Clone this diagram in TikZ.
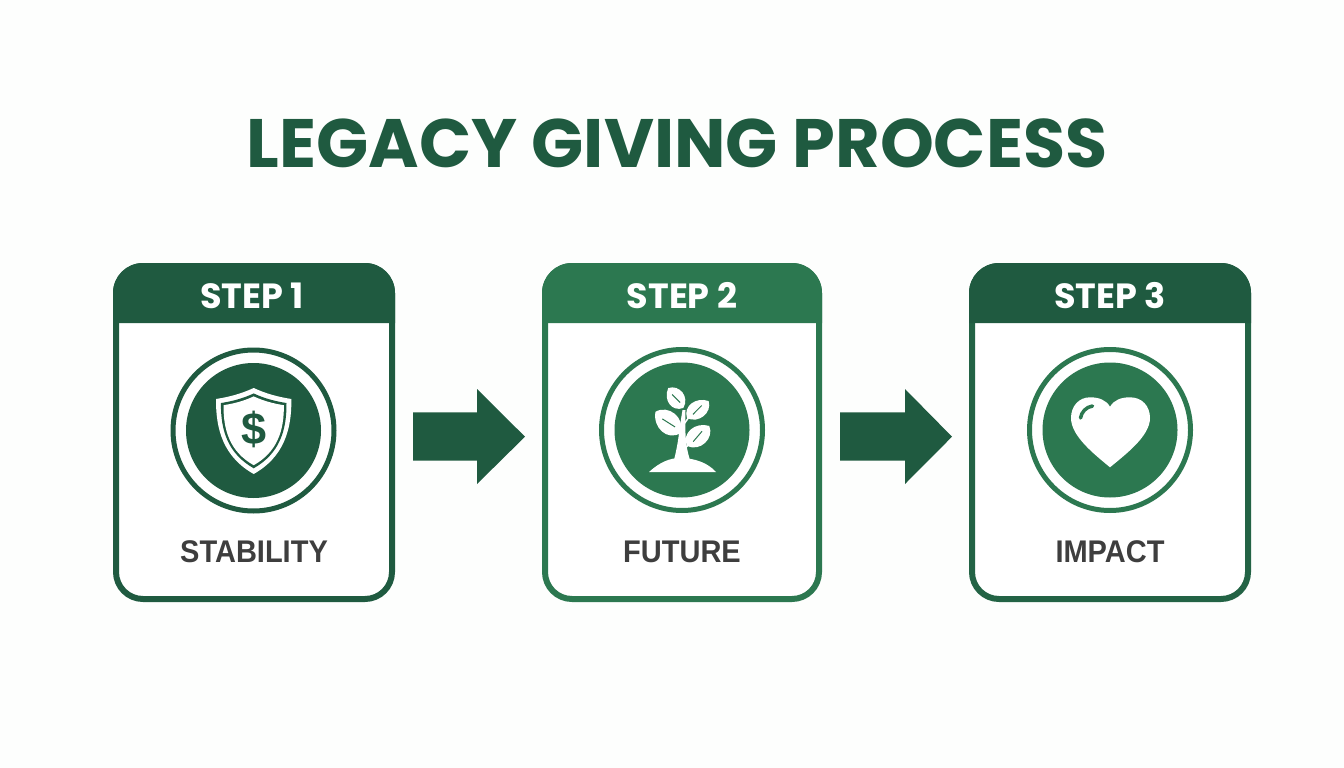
\documentclass[tikz,border=0pt]{standalone}
\usepackage{fontspec}
\usepackage{graphicx}
\setmainfont{Liberation Sans}
\newfontfamily\pop{Poppins}
\definecolor{gdark}{HTML}{1F5A40}
\definecolor{gmid}{HTML}{2C7850}
\definecolor{ink}{HTML}{3E3E3E}
\definecolor{paper}{HTML}{FDFEFD}
\newcommand{\stepcard}[9]{% name, left, right, border colour, header colour, header text, label, disc colour, header shift
  \node[cardbox, draw=#4, minimum width=#3-#2-6, minimum height=333] (#1) at ({(#2+#3)/2},432.5) {};
  \fill[#5] (#2,323) {[rounded corners=30] -- (#2,263) -- (#3,263)} -- (#3,323) -- cycle;
  \node[stepnum] (#1head) at ({(#2+#3)/2+#9},308.5) {#6};
  \node[steplabel] (#1label) at ({(#2+#3)/2},562.5) {\scalebox{1}[1.08]{#7}};
  \draw[#8, line width=5pt] (#1c) circle (80.5);
  \fill[#8] (#1c) circle (67.5);
}
\newcommand{\plantleaf}[5]{% base x, base y, angle, length, half width
  \begin{scope}[shift={(#1,#2)}, rotate=#3]
    \fill[white] (0,0) .. controls (#4*.15,-#5*1.5) and (#4*.75,-#5*1.4) .. (#4,0)
                       .. controls (#4*.85,#5*1.4) and (#4*.2,#5*1.5) .. cycle;
    \draw[leafvein] (#4*.25,#5*.1) -- (#4*.7,-#5*.1);
  \end{scope}}
\newcommand{\shieldpath}{(0,-42) .. controls (-13,-36) and (-25,-33) .. (-37.7,-31)
   .. controls (-38,0) and (-30,27) .. (0,44)
   .. controls (30,27) and (38,0) .. (37.7,-31)
   .. controls (25,-33) and (13,-36) .. cycle}
\tikzset{
  cardbox/.style={rectangle, line width=6pt, rounded corners=27, fill=white, inner sep=0pt},
  stepnum/.style={anchor=base, text=white, font=\pop\bfseries\fontsize{35}{38}\selectfont},
  steplabel/.style={anchor=base, text=ink, inner sep=0pt, font=\bfseries\fontsize{29}{32}\selectfont},
  flowarrow/.style={fill=gdark},
  leafvein/.style={draw=gmid, line width=1pt},
}
\begin{document}
\begin{tikzpicture}[x=1pt,y=-1pt]
\useasboundingbox (0,0) rectangle (1344,768);
\fill[paper] (0,0) rectangle (1344,768);
\node[anchor=base, text=gdark, font=\pop\bfseries\fontsize{68.5}{72}\selectfont] (title) at (677,167) {LEGACY GIVING PROCESS};

\coordinate (ac) at (253.5,430.5);
\coordinate (bc) at (682,430);
\coordinate (cc) at (1110,430);

\stepcard{a}{113}{395}{gdark}{gdark}{STEP 1}{STABILITY}{gdark}{-2}
\stepcard{b}{542}{822}{gmid}{gmid}{STEP 2}{FUTURE}{gmid}{0}
\stepcard{c}{969}{1251}{gdark!70!gmid}{gdark}{STEP 3}{IMPACT}{gmid}{0}

% arrows between the cards
\fill[flowarrow, shift={(a.east)}] (18,-20.2) -- (82,-20.2) -- (82,-43.5) -- (130,4.2) -- (82,51.5) -- (82,28.2) -- (18,28.2) -- cycle;
\fill[flowarrow, shift={(b.east)}] (18,-20.2) -- (83,-20.2) -- (83,-43.5) -- (130,4.2) -- (83,51.5) -- (83,28.2) -- (18,28.2) -- cycle;

% shield
\begin{scope}[shift={(253.7,430)}]
  \fill[white] \shieldpath;
  \begin{scope}[scale=.87] \fill[gdark] \shieldpath; \end{scope}
  \begin{scope}[scale=.80] \fill[white] \shieldpath; \end{scope}
\end{scope}
\node[text=gdark, font=\bfseries\fontsize{45}{48}\selectfont, inner sep=0pt] (dollar) at (253.7,429) {\$};

% plant
\fill[white] (649,472) .. controls (660,462) and (670,458) .. (680,458) .. controls (695,458) and (708,463) .. (716,472) -- cycle;
\fill[white] (674,460) .. controls (679,440) and (679,430) .. (682.5,410) -- (685.5,410) .. controls (685,430) and (685,445) .. (690,460) -- cycle;
\draw[white, line width=1.5pt] (684,424) -- (689,417);
\draw[white, line width=1.5pt] (684.5,449) -- (689,444);
\plantleaf{683.3}{408}{127}{25}{8}
\plantleaf{687}{418}{38}{27.5}{8}
\plantleaf{680.7}{433}{140}{33}{10}
\plantleaf{687}{446}{42}{30}{9}

% heart
\fill[white] (1110,406.7) .. controls (1106,400) and (1099,397.3) .. (1090,397.3)
  .. controls (1079,397.3) and (1071,406) .. (1071,418)
  .. controls (1071,436) and (1094,454) .. (1110,467.3)
  .. controls (1126,454) and (1150,436) .. (1150,418)
  .. controls (1150,406) and (1142,397.3) .. (1130,397.3)
  .. controls (1121,397.3) and (1114,400) .. (1110,406.7) -- cycle;
\draw[gmid, line width=3.5pt, line cap=round] (1080.5,418) .. controls (1081.5,412) and (1086,407) .. (1092.5,406);
\end{tikzpicture}
\end{document}
